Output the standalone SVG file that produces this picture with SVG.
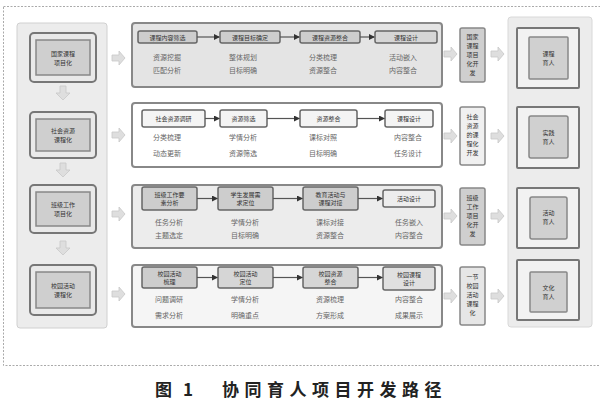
<svg xmlns="http://www.w3.org/2000/svg" width="600" height="403" viewBox="0 0 600 403">
<style>
text{font-family:"Noto Sans CJK SC","Noto Sans",sans-serif;fill:#555;text-anchor:middle}
.t{font-size:6px;fill:#333}
.s{font-size:7px;fill:#666}
.lb{fill:#e9e9e9;stroke:#777;stroke-width:2}
.li{fill:#cfcfcf;stroke:#888;stroke-width:1.5}
.row{stroke:#888;stroke-width:2}
.st{stroke:#666;stroke-width:1.5}
.vb{stroke:#888;stroke-width:1.5}
.ln{stroke:#555;stroke-width:1.2;fill:none;marker-end:url(#ah)}
.ba{fill:#dedede;stroke:#c8c8c8;stroke-width:0.8}
.cap{font-size:17px;font-weight:bold;fill:#222;text-anchor:start}
</style>
<defs>
<marker id="ah" markerWidth="6" markerHeight="6" refX="5" refY="3" orient="auto" markerUnits="userSpaceOnUse"><path d="M0,0 L6,3 L0,6 Z" fill="#333"/></marker>
<path id="ra" d="M0,-3 H7 V-7 L13,0 L7,7 V3 H0 Z"/>
<path id="da" d="M-3,0 V7 H-7 L0,14 L7,7 H3 V0 Z"/>
</defs>
<rect width="600" height="403" fill="#fff"/>
<rect x="3.5" y="6.5" width="610" height="359" fill="none" stroke="#aaa" stroke-dasharray="2,1.5"/>

<g id="left-panel">
<rect x="17" y="23" width="90" height="305" rx="3" fill="#ececec" stroke="#d0d0d0"/>
</g>
<g id="l1"><rect class="lb" x="30" y="33" width="66" height="49" rx="4"/><rect class="li" x="36" y="40" width="54" height="35"/><text class="t" x="63" y="56">国家课程</text><text class="t" x="63" y="65">项目化</text></g>
<g id="l2"><rect class="lb" x="30" y="112" width="66" height="46" rx="4"/><rect class="li" x="36" y="119" width="54" height="32"/><text class="t" x="63" y="133">社会资源</text><text class="t" x="63" y="142">课程化</text></g>
<g id="l3"><rect class="lb" x="30" y="185" width="66" height="48" rx="4"/><rect class="li" x="36" y="192" width="54" height="34"/><text class="t" x="63" y="207">班级工作</text><text class="t" x="63" y="216">项目化</text></g>
<g id="l4"><rect class="lb" x="30" y="265" width="66" height="50" rx="4"/><rect class="li" x="36" y="272" width="54" height="36"/><text class="t" x="63" y="288">校园活动</text><text class="t" x="63" y="297">课程化</text></g>

<g id="r1-panel"><rect class="row" x="132" y="23" width="310" height="64" rx="3" fill="#e4e4e4"/></g>
<g id="r1a"><rect class="st" x="138" y="31" width="59" height="12" rx="2" fill="#cdcdcd"/><text class="t" x="167.5" y="39.5">课程内容筛选</text></g>
<g id="r1b"><rect class="st" x="220" y="31" width="60" height="12" rx="2" fill="#cdcdcd"/><text class="t" x="250" y="39.5">课程目标确定</text></g>
<g id="r1c"><rect class="st" x="300" y="31" width="60" height="12" rx="2" fill="#cdcdcd"/><text class="t" x="330" y="39.5">课程资源整合</text></g>
<g id="r1d"><rect class="st" x="375" y="31" width="62" height="12" rx="2" fill="#d6d6d6"/><text class="t" x="406" y="39.5">课程设计</text></g>
<g id="r1-text"><text class="s" x="167" y="60">资源挖掘</text><text class="s" x="167" y="73">匹配分析</text><text class="s" x="243" y="60">整体规划</text><text class="s" x="243" y="73">目标明确</text><text class="s" x="323" y="60">分类梳理</text><text class="s" x="323" y="73">资源整合</text><text class="s" x="403" y="60">活动嵌入</text><text class="s" x="403" y="73">内容整合</text></g>

<g id="r2-panel"><rect class="row" x="132" y="103" width="310" height="64" rx="3" fill="#fff"/></g>
<g id="r2a"><rect class="st" x="142" y="110" width="63" height="17" rx="2" fill="#f4f4f4"/><text class="t" x="173.5" y="120.5">社会资源调研</text></g>
<g id="r2b"><rect class="st" x="220" y="110" width="47" height="17" rx="2" fill="#f4f4f4"/><text class="t" x="243.5" y="120.5">资源筛选</text></g>
<g id="r2c"><rect class="st" x="300" y="110" width="57" height="17" rx="2" fill="#f4f4f4"/><text class="t" x="328.5" y="120.5">资源整合</text></g>
<g id="r2d"><rect class="st" x="385" y="110" width="48" height="17" rx="2" fill="#f4f4f4"/><text class="t" x="409" y="120.5">课程设计</text></g>
<g id="r2-text"><text class="s" x="167" y="140">分类梳理</text><text class="s" x="167" y="156">动态更新</text><text class="s" x="243" y="140">学情分析</text><text class="s" x="243" y="156">资源筛选</text><text class="s" x="323" y="140">课标对照</text><text class="s" x="323" y="156">目标明确</text><text class="s" x="408" y="140">内容整合</text><text class="s" x="408" y="156">任务设计</text></g>

<g id="r3-panel"><rect class="row" x="132" y="185" width="310" height="63" rx="3" fill="#ececec"/></g>
<g id="r3a"><rect class="st" x="142" y="187" width="55" height="23" rx="2" fill="#cdcdcd"/><text class="t" x="169.5" y="197">班级工作要</text><text class="t" x="169.5" y="205">素分析</text></g>
<g id="r3b"><rect class="st" x="218" y="187" width="55" height="23" rx="2" fill="#cdcdcd"/><text class="t" x="245.5" y="197">学生发展需</text><text class="t" x="245.5" y="205">求定位</text></g>
<g id="r3c"><rect class="st" x="303" y="187" width="55" height="23" rx="2" fill="#cdcdcd"/><text class="t" x="330.5" y="197">教育活动与</text><text class="t" x="330.5" y="205">课程对接</text></g>
<g id="r3d"><rect class="st" x="383" y="190" width="52" height="17" rx="2" fill="#ededed"/><text class="t" x="409" y="200.5">活动设计</text></g>
<g id="r3-text"><text class="s" x="169" y="225">任务分析</text><text class="s" x="169" y="238">主题选定</text><text class="s" x="245" y="225">学情分析</text><text class="s" x="245" y="238">目标明确</text><text class="s" x="330" y="225">课标对接</text><text class="s" x="330" y="238">资源整合</text><text class="s" x="409" y="225">任务嵌入</text><text class="s" x="409" y="238">内容整合</text></g>

<g id="r4-panel"><rect class="row" x="132" y="265" width="310" height="62" rx="3" fill="#f5f5f5"/></g>
<g id="r4a"><rect class="st" x="142" y="267" width="55" height="21" rx="2" fill="#cdcdcd"/><text class="t" x="169.5" y="276">校园活动</text><text class="t" x="169.5" y="284">梳理</text></g>
<g id="r4b"><rect class="st" x="218" y="267" width="55" height="21" rx="2" fill="#d6d6d6"/><text class="t" x="245.5" y="276">校园活动</text><text class="t" x="245.5" y="284">定位</text></g>
<g id="r4c"><rect class="st" x="303" y="267" width="55" height="21" rx="2" fill="#d6d6d6"/><text class="t" x="330.5" y="276">校园资源</text><text class="t" x="330.5" y="284">整合</text></g>
<g id="r4d"><rect class="st" x="383" y="267" width="52" height="23" rx="2" fill="#e0e0e0"/><text class="t" x="409" y="277">校园课程</text><text class="t" x="409" y="285">设计</text></g>
<g id="r4-text"><text class="s" x="169" y="302">问题调研</text><text class="s" x="169" y="318">需求分析</text><text class="s" x="245" y="302">学情分析</text><text class="s" x="245" y="318">明确重点</text><text class="s" x="330" y="302">资源梳理</text><text class="s" x="330" y="318">方案形成</text><text class="s" x="409" y="302">内容整合</text><text class="s" x="409" y="318">成果展示</text></g>

<g id="v1"><rect class="vb" x="460" y="28" width="25" height="54" rx="2" fill="#cfcfcf"/><text class="t"><tspan x="472.5" y="39">国家</tspan><tspan x="472.5" y="48">课程</tspan><tspan x="472.5" y="57">项目</tspan><tspan x="472.5" y="66">化开</tspan><tspan x="472.5" y="75">发</tspan></text></g>
<g id="v2"><rect class="vb" x="460" y="107" width="25" height="58" rx="2" fill="#f0f0f0"/><text class="t"><tspan x="472.5" y="119">社会</tspan><tspan x="472.5" y="128">资源</tspan><tspan x="472.5" y="137">的课</tspan><tspan x="472.5" y="146">程化</tspan><tspan x="472.5" y="155">开发</tspan></text></g>
<g id="v3"><rect class="vb" x="460" y="188" width="25" height="57" rx="2" fill="#cfcfcf"/><text class="t"><tspan x="472.5" y="200">班级</tspan><tspan x="472.5" y="209">工作</tspan><tspan x="472.5" y="218">项目</tspan><tspan x="472.5" y="227">化开</tspan><tspan x="472.5" y="236">发</tspan></text></g>
<g id="v4"><rect class="vb" x="460" y="267" width="25" height="58" rx="2" fill="#e6e6e6"/><text class="t"><tspan x="472.5" y="279">一节</tspan><tspan x="472.5" y="288">校园</tspan><tspan x="472.5" y="297">活动</tspan><tspan x="472.5" y="306">课程</tspan><tspan x="472.5" y="315">化</tspan></text></g>

<g id="right-panel"><rect x="508" y="17" width="84" height="310" rx="3" fill="#ececec" stroke="#d8d8d8"/></g>
<g id="p1"><rect x="517" y="28" width="62" height="60" fill="#f2f2f2" stroke="#777" stroke-width="2" rx="1"/><rect x="529" y="37" width="39" height="42" fill="#d0d0d0" stroke="#888" stroke-width="1.5" rx="1"/><text class="t" x="548.5" y="56">课程</text><text class="t" x="548.5" y="65">育人</text></g>
<g id="p2"><rect x="517" y="107" width="62" height="61" fill="#f2f2f2" stroke="#777" stroke-width="2" rx="1"/><rect x="529" y="116" width="39" height="42" fill="#d0d0d0" stroke="#888" stroke-width="1.5" rx="2"/><text class="t" x="548.5" y="135">实践</text><text class="t" x="548.5" y="144">育人</text></g>
<g id="p3"><rect x="517" y="188" width="62" height="60" fill="#f2f2f2" stroke="#777" stroke-width="2" rx="1"/><rect x="530" y="197" width="37" height="42" fill="#d0d0d0" stroke="#888" stroke-width="1.5" rx="2"/><text class="t" x="548.5" y="215">活动</text><text class="t" x="548.5" y="224">育人</text></g>
<g id="p4"><rect x="517" y="260" width="62" height="60" fill="#f2f2f2" stroke="#777" stroke-width="2" rx="1"/><rect x="530" y="272" width="37" height="40" fill="#d0d0d0" stroke="#888" stroke-width="1.5" rx="1"/><text class="t" x="548.5" y="290">文化</text><text class="t" x="548.5" y="299">育人</text></g>

<g id="connectors">
<use href="#da" class="ba" x="63" y="86"/>
<use href="#da" class="ba" x="63" y="163"/>
<use href="#da" class="ba" x="63" y="241"/>
<use href="#ra" class="ba" x="112" y="58"/>
<use href="#ra" class="ba" x="112" y="135"/>
<use href="#ra" class="ba" x="112" y="214"/>
<use href="#ra" class="ba" x="112" y="294"/>
<use href="#ra" class="ba" x="444" y="54"/>
<use href="#ra" class="ba" x="444" y="136"/>
<use href="#ra" class="ba" x="444" y="216"/>
<use href="#ra" class="ba" x="444" y="296"/>
<use href="#ra" class="ba" x="491" y="54"/>
<use href="#ra" class="ba" x="491" y="136"/>
<use href="#ra" class="ba" x="491" y="216"/>
<use href="#ra" class="ba" x="491" y="296"/>
<line class="ln" x1="197" y1="37" x2="219" y2="37"/>
<line class="ln" x1="280" y1="37" x2="299" y2="37"/>
<line class="ln" x1="360" y1="37" x2="374" y2="37"/>
<line class="ln" x1="205" y1="118.5" x2="219" y2="118.5"/>
<line class="ln" x1="267" y1="118.5" x2="299" y2="118.5"/>
<line class="ln" x1="357" y1="118.5" x2="384" y2="118.5"/>
<line class="ln" x1="197" y1="198.5" x2="217" y2="198.5"/>
<line class="ln" x1="273" y1="198.5" x2="302" y2="198.5"/>
<line class="ln" x1="358" y1="198.5" x2="382" y2="198.5"/>
<line class="ln" x1="197" y1="277.5" x2="217" y2="277.5"/>
<line class="ln" x1="273" y1="277.5" x2="302" y2="277.5"/>
<line class="ln" x1="358" y1="277.5" x2="382" y2="277.5"/>
</g>

<text class="cap" x="155" y="396">图</text>
<text class="cap" x="183" y="396">1</text>
<text class="cap" x="222" y="396" style="letter-spacing:5.5px">协同育人项目开发路径</text>
</svg>
